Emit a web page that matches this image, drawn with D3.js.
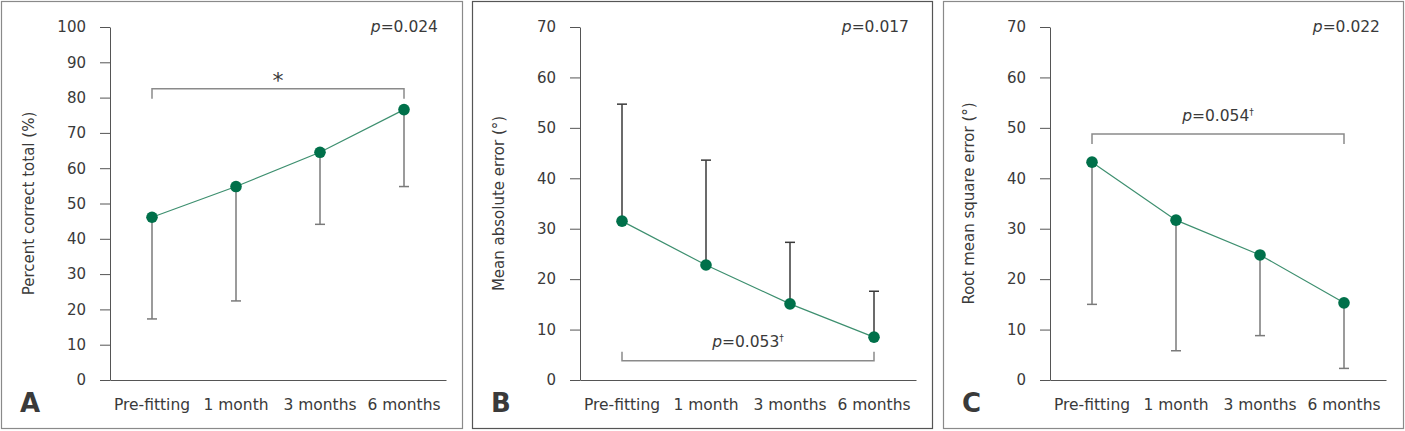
<!DOCTYPE html>
<html>
<head>
<meta charset="utf-8">
<script src="https://cdn.jsdelivr.net/npm/d3@7"></script>
<style>
  html, body { margin: 0; padding: 0; background: #fff; }
  svg { display: block; }
  text { font-family: "DejaVu Sans", sans-serif; fill: #3a3a3a; }
</style>
</head>
<body>
<svg id="chart" width="1405" height="431"></svg>
<script>
const categories = ["Pre-fitting", "1 month", "3 months", "6 months"];

const meanA = [46.1, 54.8, 64.5, 76.6];
const sdA = [28.8, 32.4, 20.4, 21.8];
const meanB = [31.5, 22.8, 15.1, 8.5];
const sdB = [23.2, 20.8, 12.2, 9.1];
const meanC = [43.2, 31.7, 24.8, 15.3];
const sdC = [28.2, 25.9, 16.0, 13.0];

const yTitles = ["Percent correct total (%)", "Mean absolute error (°)", "Root mean square error (°)"];
const yMax = [100, 70, 70];
const overallP = ["0.024", "0.017", "0.022"];
const panelLetters = ["A", "B", "C"];

const GREEN = "#00704a";
const LINE_GREEN = "#3d8f6f";
const FONT = "DejaVu Sans, sans-serif";

const panels = [
  { x: 1, w: 462, axisX: 110, mean: meanA, sd: sdA, dir: -1, barColor: "#7a7a7a", border: "#8a8a8a",
    bracket: { y: 82.5, drop: -2.8, label: "*", star: true } },
  { x: 472, w: 461, axisX: 580, mean: meanB, sd: sdB, dir: 1, barColor: "#3a3a3a", border: "#555",
    bracket: { y: 3.8, drop: 1.8, label: "0.053", labelY: 6.5 } },
  { x: 943, w: 461, axisX: 1050, mean: meanC, sd: sdC, dir: -1, barColor: "#7a7a7a", border: "#8a8a8a",
    bracket: { y: 48.8, drop: -2, label: "0.054", labelY: 51.3 } },
];

const svg = d3.select("#chart");
const TOP = 27, BOTTOM = 380, PLOT_W = 336;

panels.forEach((p, i) => {
  const g = svg.append("g");

  g.append("rect")
    .attr("x", p.x + 0.5).attr("y", 1.5)
    .attr("width", p.w - 1).attr("height", 427)
    .attr("fill", "none").attr("stroke", p.border).attr("stroke-width", 1.2);

  const x = d3.scaleBand().domain(categories).range([p.axisX, p.axisX + PLOT_W]);
  const y = d3.scaleLinear().domain([0, yMax[i]]).range([BOTTOM, TOP]);
  const cx = (c) => x(c) + x.bandwidth() / 2;

  // y axis
  const yAxis = g.append("g")
    .attr("transform", `translate(${p.axisX},0)`)
    .call(d3.axisLeft(y).ticks(yMax[i] / 10).tickSize(10).tickSizeOuter(0).tickPadding(14));
  yAxis.select(".domain").attr("stroke", "#555");
  yAxis.selectAll(".tick line").attr("stroke", "#555");
  yAxis.selectAll(".tick text")
    .attr("fill", "#3a3a3a").attr("font-size", 15)
    .attr("font-family", FONT);

  // x axis
  const xAxis = g.append("g")
    .attr("transform", `translate(0,${BOTTOM})`)
    .call(d3.axisBottom(x).tickSize(0).tickSizeOuter(0).tickPadding(19));
  xAxis.select(".domain").attr("stroke", "#555");
  xAxis.selectAll(".tick text")
    .attr("fill", "#3a3a3a").attr("font-size", 15.5)
    .attr("font-family", FONT);

  // y title
  g.append("text")
    .attr("transform", `translate(${p.axisX - 81},${(TOP + BOTTOM) / 2}) rotate(-90)`)
    .attr("text-anchor", "middle")
    .attr("dy", "0.35em")
    .attr("font-size", 15)
    .text(yTitles[i]);

  // panel letter
  g.append("text")
    .attr("x", p.x + 19).attr("y", 412)
    .attr("font-size", 26).attr("font-weight", "bold").attr("fill", "#1a1a1a")
    .attr("font-family", "Liberation Sans, Arial, sans-serif")
    .text(panelLetters[i]);

  // overall p
  const pt = g.append("text")
    .attr("x", p.x + 437).attr("y", 32)
    .attr("text-anchor", "end").attr("font-size", 15.5);
  pt.append("tspan").attr("font-style", "italic").text("p");
  pt.append("tspan").text("=" + overallP[i]);

  // bracket
  const b = p.bracket;
  const x0 = cx(categories[0]), x1 = cx(categories[categories.length - 1]);
  g.append("path")
    .attr("d", `M${x0},${y(b.y + b.drop)}V${y(b.y)}H${x1}V${y(b.y + b.drop)}`)
    .attr("fill", "none").attr("stroke", "#8a8a8a").attr("stroke-width", 1.5);
  if (b.star) {
    g.append("text")
      .attr("x", (x0 + x1) / 2).attr("y", y(b.y) - 1)
      .attr("text-anchor", "middle").attr("font-size", 22)
      .text("*");
  } else {
    const bt = g.append("text")
      .attr("x", (x0 + x1) / 2).attr("y", y(b.labelY))
      .attr("text-anchor", "middle").attr("font-size", 15.5);
    bt.append("tspan").attr("font-style", "italic").text("p");
    bt.append("tspan").text("=" + b.label);
    bt.append("tspan").attr("font-size", 9).attr("dy", -6).text("†");
  }

  // error bars
  const bars = g.append("g");
  categories.forEach((c, k) => {
    const end = p.mean[k] + p.dir * p.sd[k];
    bars.append("line")
      .attr("x1", cx(c)).attr("x2", cx(c))
      .attr("y1", y(p.mean[k])).attr("y2", y(end))
      .attr("stroke", p.barColor).attr("stroke-width", 1.5);
    bars.append("line")
      .attr("x1", cx(c) - 5).attr("x2", cx(c) + 5)
      .attr("y1", y(end)).attr("y2", y(end))
      .attr("stroke", p.barColor).attr("stroke-width", 1.5);
  });

  // line
  g.append("path")
    .datum(p.mean)
    .attr("d", d3.line().x((d, k) => cx(categories[k])).y((d) => y(d)))
    .attr("fill", "none").attr("stroke", LINE_GREEN).attr("stroke-width", 1.2);

  // points
  g.selectAll("circle.pt")
    .data(p.mean)
    .join("circle")
    .attr("class", "pt")
    .attr("cx", (d, k) => cx(categories[k]))
    .attr("cy", (d) => y(d))
    .attr("r", 5.8)
    .attr("fill", GREEN);
});
</script>
</body>
</html>
